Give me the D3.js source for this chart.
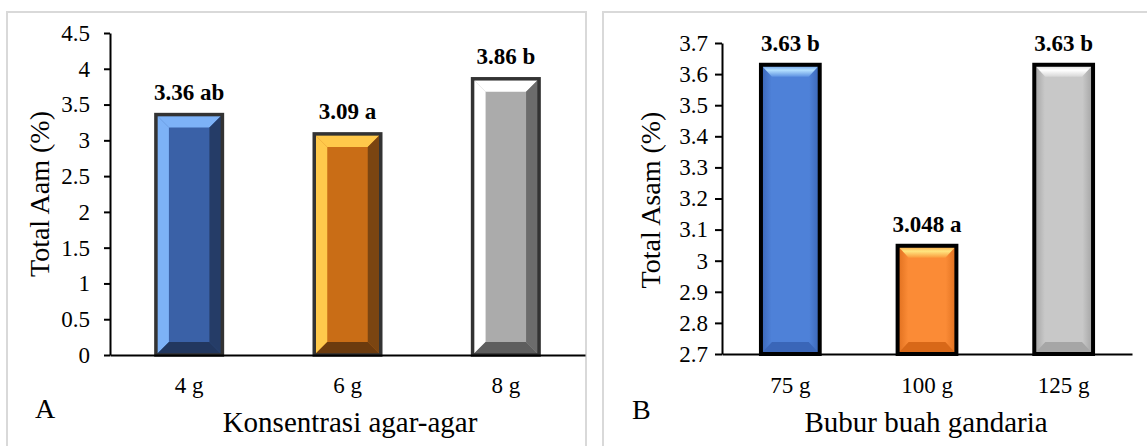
<!DOCTYPE html>
<html>
<head>
<meta charset="utf-8">
<script src="https://cdn.jsdelivr.net/npm/d3@7"></script>
<style>
  html, body { margin: 0; padding: 0; background: #ffffff; }
  svg { display: block; }
  text { font-family: "Times New Roman", "Liberation Serif", serif; fill: #000; }
</style>
</head>
<body>
<svg id="chart" width="1147" height="446"></svg>
<script>
// ---- Data ----
const leftCategories = ["4 g", "6 g", "8 g"];
const leftValues = [3.36, 3.09, 3.86];
const leftLabels = ["3.36 ab", "3.09 a", "3.86 b"];
const leftTicks = [0, 0.5, 1, 1.5, 2, 2.5, 3, 3.5, 4, 4.5];
const leftTickLabels = ["0", "0.5", "1", "1.5", "2", "2.5", "3", "3.5", "4", "4.5"];

const rightCategories = ["75 g", "100 g", "125 g"];
const rightValues = [3.63, 3.048, 3.63];
const rightLabels = ["3.63 b", "3.048 a", "3.63 b"];
const rightTicks = [2.7, 2.8, 2.9, 3.0, 3.1, 3.2, 3.3, 3.4, 3.5, 3.6, 3.7];
const rightTickLabels = ["2.7", "2.8", "2.9", "3", "3.1", "3.2", "3.3", "3.4", "3.5", "3.6", "3.7"];

// ---- Styles ----
const leftBarColors = [
  { light: "#7db2f7", mid: "#3a61a7", dark: "#253c67", bottom: "#22375f" },
  { light: "#ffc94b", mid: "#c96d16", dark: "#7b4511", bottom: "#6c3b0e" },
  { light: "#ffffff", mid: "#ababab", dark: "#6c6c6c", bottom: "#5e5e5e" }
];
const rightBarColors = [
  { hi: "#b4e0ff", top: "#5d92e2", edge: "#3b66b6", mid: "#4e81d8", bottom: "#3a66b8" },
  { hi: "#ffe680", top: "#fb9a3c", edge: "#df6f1e", mid: "#fb8b36", bottom: "#d86818" },
  { hi: "#ffffff", top: "#d6d6d6", edge: "#a2a2a2", mid: "#c8c8c8", bottom: "#a6a6a6" }
];
const FONT = "Times New Roman, Liberation Serif, serif";

const svg = d3.select("#chart");
const defs = svg.append("defs");

// Panel frames
svg.append("rect").attr("x", 7).attr("y", 12).attr("width", 579).attr("height", 450)
  .attr("fill", "none").attr("stroke", "#d9d9d9").attr("stroke-width", 2);
svg.append("rect").attr("x", 603).attr("y", 12).attr("width", 560).attr("height", 450)
  .attr("fill", "none").attr("stroke", "#d9d9d9").attr("stroke-width", 2);

function poly(g, pts, fill) {
  g.append("polygon").attr("points", pts.map(p => p.join(",")).join(" ")).attr("fill", fill);
}

// ===== Left chart =====
const xL = d3.scaleBand().domain(leftCategories).range([110, 585]).paddingInner(0.58).paddingOuter(0.29);
const yL = d3.scaleLinear().domain([0, 4.5]).range([355, 33]);

const gL = svg.append("g");
leftCategories.forEach((c, i) => {
  const x0 = xL(c), w = xL.bandwidth();
  const y0 = yL(leftValues[i]), yb = yL(0);
  const b = 13, bv = 13;
  const col = leftBarColors[i];
  const g = gL.append("g");
  g.append("rect").attr("x", x0).attr("y", y0).attr("width", w).attr("height", yb - y0).attr("fill", col.mid);
  poly(g, [[x0, y0], [x0 + w, y0], [x0 + w - b, y0 + bv], [x0 + b, y0 + bv]], col.light);
  poly(g, [[x0, y0], [x0 + b, y0 + bv], [x0 + b, yb - bv], [x0, yb]], col.light);
  poly(g, [[x0 + w, y0], [x0 + w, yb], [x0 + w - b, yb - bv], [x0 + w - b, y0 + bv]], col.dark);
  poly(g, [[x0, yb], [x0 + b, yb - bv], [x0 + w - b, yb - bv], [x0 + w, yb]], col.bottom);
  g.append("rect").attr("x", x0).attr("y", y0).attr("width", w).attr("height", yb - y0)
    .attr("fill", "none").attr("stroke", "#333").attr("stroke-width", 3.5);
  gL.append("text").attr("x", x0 + w / 2).attr("y", y0 - 15)
    .attr("text-anchor", "middle").attr("font-weight", "bold").attr("font-size", 23)
    .text(leftLabels[i]);
});

const axL = svg.append("g").attr("transform", "translate(110,0)")
  .call(d3.axisLeft(yL).tickValues(leftTicks).tickFormat((d, i) => leftTickLabels[i])
    .tickSize(6).tickSizeOuter(0).tickPadding(14));
axL.attr("font-family", FONT);
axL.selectAll("path, line").attr("stroke", "#000").attr("stroke-width", 2);
axL.selectAll("text").attr("font-size", 23);

const axLx = svg.append("g").attr("transform", "translate(0,355)")
  .call(d3.axisBottom(xL).tickSize(0).tickSizeOuter(0).tickPadding(22));
axLx.attr("font-family", FONT);
axLx.selectAll("path").attr("stroke", "#000").attr("stroke-width", 2);
axLx.selectAll("text").attr("font-size", 23);

svg.append("text").attr("x", 350).attr("y", 432).attr("text-anchor", "middle")
  .attr("font-size", 29).text("Konsentrasi agar-agar");
svg.append("text").attr("transform", "translate(49,194) rotate(-90)").attr("text-anchor", "middle")
  .attr("font-size", 28).text("Total Aam (%)");
svg.append("text").attr("x", 35).attr("y", 418).attr("font-size", 28).text("A");

// ===== Right chart =====
const xR = d3.scaleBand().domain(rightCategories).range([722, 1132]).paddingInner(0.57).paddingOuter(0.285);
const yR = d3.scaleLinear().domain([2.7, 3.7]).range([354, 43]);

rightBarColors.forEach((col, i) => {
  const gh = defs.append("linearGradient").attr("id", "rh" + i).attr("x1", 0).attr("x2", 1).attr("y1", 0).attr("y2", 0);
  gh.append("stop").attr("offset", "0%").attr("stop-color", col.edge);
  gh.append("stop").attr("offset", "18%").attr("stop-color", col.mid);
  gh.append("stop").attr("offset", "50%").attr("stop-color", col.mid);
  gh.append("stop").attr("offset", "82%").attr("stop-color", col.mid);
  gh.append("stop").attr("offset", "100%").attr("stop-color", col.edge);
  const gt = defs.append("linearGradient").attr("id", "rt" + i).attr("x1", 0).attr("x2", 0).attr("y1", 0).attr("y2", 1);
  gt.append("stop").attr("offset", "0%").attr("stop-color", col.top);
  gt.append("stop").attr("offset", "45%").attr("stop-color", col.hi);
  gt.append("stop").attr("offset", "100%").attr("stop-color", col.top);
});

const gR = svg.append("g");
rightCategories.forEach((c, i) => {
  const x0 = xR(c), w = xR.bandwidth();
  const y0 = yR(rightValues[i]), yb = yR(2.7);
  const b = 11, bv = 12;
  const col = rightBarColors[i];
  const g = gR.append("g");
  g.append("rect").attr("x", x0).attr("y", y0).attr("width", w).attr("height", yb - y0).attr("fill", "url(#rh" + i + ")");
  poly(g, [[x0, y0], [x0 + w, y0], [x0 + w - b, y0 + bv], [x0 + b, y0 + bv]], "url(#rt" + i + ")");
  poly(g, [[x0, yb], [x0 + b, yb - bv], [x0 + w - b, yb - bv], [x0 + w, yb]], col.bottom);
  g.append("rect").attr("x", x0).attr("y", y0).attr("width", w).attr("height", yb - y0)
    .attr("fill", "none").attr("stroke", "#000").attr("stroke-width", 4);
  gR.append("text").attr("x", x0 + w / 2).attr("y", y0 - 14)
    .attr("text-anchor", "middle").attr("font-weight", "bold").attr("font-size", 23)
    .text(rightLabels[i]);
});

const axR = svg.append("g").attr("transform", "translate(722,0)")
  .call(d3.axisLeft(yR).tickValues(rightTicks).tickFormat((d, i) => rightTickLabels[i])
    .tickSize(7).tickSizeOuter(0).tickPadding(7));
axR.attr("font-family", FONT);
axR.selectAll("path, line").attr("stroke", "#000").attr("stroke-width", 2);
axR.selectAll("text").attr("font-size", 23);

const axRx = svg.append("g").attr("transform", "translate(0,354)")
  .call(d3.axisBottom(xR).tickSize(0).tickSizeOuter(0).tickPadding(23));
axRx.attr("font-family", FONT);
axRx.selectAll("path").attr("stroke", "#000").attr("stroke-width", 2);
axRx.selectAll("text").attr("font-size", 23);

svg.append("text").attr("x", 926).attr("y", 432).attr("text-anchor", "middle")
  .attr("font-size", 29).text("Bubur buah gandaria");
svg.append("text").attr("transform", "translate(660,200) rotate(-90)").attr("text-anchor", "middle")
  .attr("font-size", 28).text("Total Asam (%)");
svg.append("text").attr("x", 632).attr("y", 419).attr("font-size", 28).text("B");
</script>
</body>
</html>
